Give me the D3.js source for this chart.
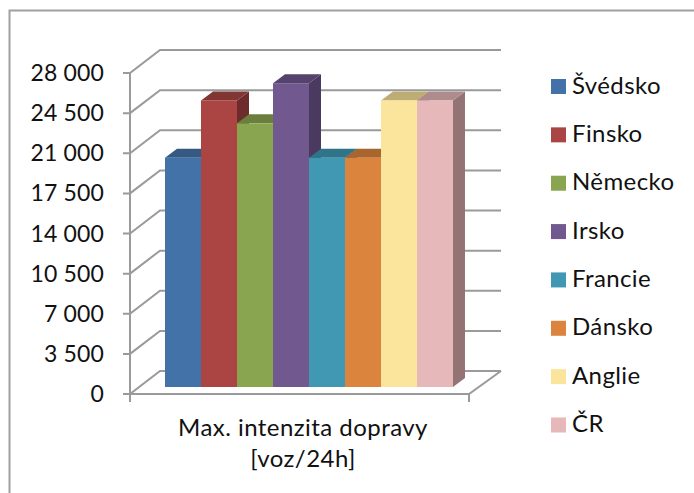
<!DOCTYPE html>
<html><head><meta charset="utf-8">
<script src="https://cdn.jsdelivr.net/npm/d3@7"></script>
<style>html,body{margin:0;padding:0;background:#fff}svg{display:block}text{font-family:Lato,"Noto Sans",sans-serif;fill:#111}</style>
</head><body><svg id="c" width="694" height="493"></svg>
<script>
const categories=["Švédsko","Finsko","Německo","Irsko","Francie","Dánsko","Anglie","ČR"];
const values=[20000,25000,23000,26500,20000,20000,25000,25000];
const colors=["#4372a8","#ab4543","#89a550","#71588f","#4098b2","#db843d","#fbe59c","#e7b8b9"];
const tops=["#345a84","#823634","#6a7f3d","#55426d","#2f7488","#a8652e","#bdad75","#ae8b8c"];
const sides=["#2c4d72","#6d2c2b","#59692f","#4a3a60","#28606f","#8e5627","#9d9061","#937374"];
const ticks=[0,3500,7000,10500,14000,17500,21000,24500,28000];
const axisLabel=["Max. intenzita dopravy","[voz/24h]"];

const svg=d3.select("#c");
const grid="#9a9a9a";
svg.append("path").attr("d",d3.line()([[9.5,493],[9.5,10.5],[694,10.5]])).attr("fill","none").attr("stroke","#a0a0a0").attr("stroke-width",2);

const y=d3.scaleLinear().domain([0,28000]).range([394,73]);
const dx=30,dy=-23;
const xL=130,xR=469;
const line=d3.line();
const g=svg.append("g").attr("fill","none").attr("stroke",grid).attr("stroke-width",2);
ticks.forEach(t=>{
  g.append("path").attr("d",line([[xL-7,y(t)],[xL,y(t)],[xL+dx,y(t)+dy],[xR+dx+2,y(t)+dy]]));
});
g.append("path").attr("d",line([[xL,y(28000)],[xL,402]]));
g.append("path").attr("d",line([[xL-7,394],[xR,394],[xR+dx+2,394+dy]]));
g.append("path").attr("d",line([[xR,394],[xR,402]]));

const x=d3.scaleBand().domain(categories).range([165,453]);
const by=d3.scaleLinear().domain([0,28000]).range([387,66]);
const ddx=12,ddy=-9;
const bars=svg.append("g");
categories.forEach((c,i)=>{
  const X=x(c),W=x.bandwidth(),T=by(values[i]),B=by(0);
  bars.append("path").attr("fill",sides[i]).attr("d",line([[X+W,T],[X+W+ddx,T+ddy],[X+W+ddx,B+ddy],[X+W,B]])+"Z");
  bars.append("path").attr("fill",tops[i]).attr("d",line([[X,T],[X+ddx,T+ddy],[X+W+ddx,T+ddy],[X+W,T]])+"Z");
  bars.append("rect").attr("x",X).attr("y",T).attr("width",W).attr("height",B-T).attr("fill",colors[i]);
});

const fmt=v=>d3.format(",")(v).replace(/,/g," ");
svg.append("g").selectAll("text").data(ticks).join("text")
  .attr("x",104).attr("y",d=>y(d)+8).attr("text-anchor","end").attr("font-size",23).attr("letter-spacing",0.15).text(fmt);

svg.append("g").selectAll("text").data(axisLabel).join("text")
  .attr("x",303).attr("y",(d,i)=>436+i*31).attr("text-anchor","middle").attr("font-size",24).attr("letter-spacing",0.45).text(d=>d);

const ly=d3.scalePoint().domain(categories).range([86.5,425]);
const leg=svg.append("g");
categories.forEach((c,i)=>{
  leg.append("rect").attr("x",551).attr("y",ly(c)-7.5).attr("width",15).attr("height",15).attr("fill",colors[i]);
  leg.append("text").attr("x",572).attr("y",ly(c)+7).attr("font-size",24).attr("letter-spacing",0.4).text(c);
});
</script></body></html>
